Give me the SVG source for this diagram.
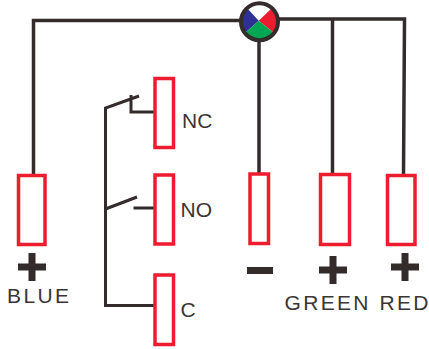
<svg xmlns="http://www.w3.org/2000/svg" width="429" height="349" viewBox="0 0 429 349">
<style>
.w{fill:none;stroke:#332c2b;stroke-width:3.500}
.k{fill:none;stroke:#332c2b;stroke-width:3}
.t{fill:none;stroke:#ed1c2e;stroke-width:3.500}
.l{font-family:"Liberation Sans",Arial,sans-serif;font-size:21px;fill:#3a3534}
.s{fill:#332c2b}
</style>
<rect width="429" height="349" fill="#fff"/>
<g id="connectors">
<path class="w" d="M33.500 175V20.500H240M279 19H404.500L403.500 175M259 41V173M332.500 19V173"/>
<path class="k" d="M155 305.500H105.500V108L139 96M131 95V112H155M105.500 209L137 197M133.500 208H154"/>
</g>
<g id="led">
<path d="M258.700 20.700L247 8A19 19 0 0 1 272 8Z" fill="#fff"/>
<path d="M258.700 20.700L247 8A19 19 0 0 0 245 33Z" fill="#2e3192"/>
<path d="M258.700 20.700L272 8A19 19 0 0 1 274 33Z" fill="#ed1c2e"/>
<path d="M258.700 20.700L245 33A19 19 0 0 0 274 33Z" fill="#00a651"/>
<circle cx="259.500" cy="21.700" r="18.500" fill="none" stroke="#332c2b" stroke-width="4"/>
</g>
<g id="blue"><rect class="t" x="18.500" y="175.500" width="26.500" height="69"/><path class="s" d="M18 263.500h10.500v-10.500h7v10.500h10.500v7h-10.500v10.500h-7v-10.500h-10.500z"/><text class="l" x="7" y="303" textLength="62">BLUE</text></g>
<g id="nc"><rect class="t" x="155" y="78.500" width="18.500" height="69"/><text class="l" x="182" y="128">NC</text></g>
<g id="no"><rect class="t" x="155" y="175" width="18.500" height="69"/><text class="l" x="180.500" y="217">NO</text></g>
<g id="c"><rect class="t" x="155" y="275" width="18.500" height="69.500"/><text class="l" x="180.500" y="317">C</text></g>
<g id="minus"><rect class="t" x="250" y="174" width="18.500" height="69.500"/><rect class="s" x="247" y="267" width="26" height="7"/></g>
<g id="green"><rect class="t" x="320.500" y="174.500" width="29" height="70"/><path class="s" d="M319 266.500h10.500v-10.500h7v10.500h10.500v7h-10.500v10.500h-7v-10.500h-10.500z"/><text class="l" x="284.500" y="310" textLength="84">GREEN</text></g>
<g id="red"><rect class="t" x="387.500" y="175.500" width="27.500" height="69"/><path class="s" d="M391 263.500h10.500v-10.500h7v10.500h10.500v7h-10.500v10.500h-7v-10.500h-10.500z"/><text class="l" x="379.500" y="310" textLength="49">RED</text></g>
</svg>
